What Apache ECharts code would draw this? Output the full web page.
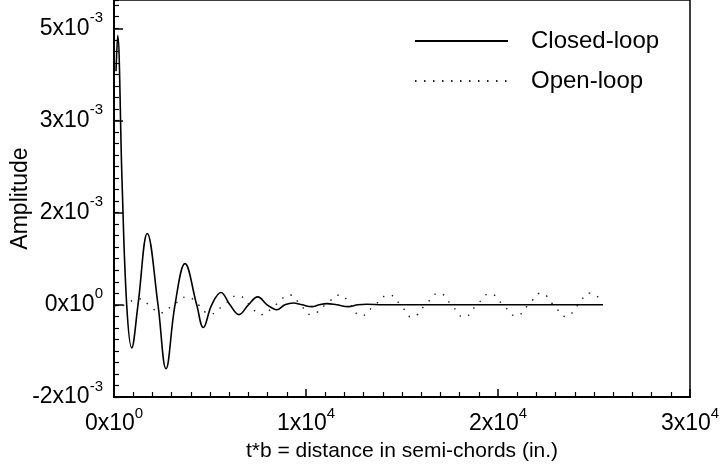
<!DOCTYPE html>
<html>
<head>
<meta charset="utf-8">
<script src="https://cdn.jsdelivr.net/npm/echarts@6/dist/echarts.min.js"></script>
<style>
html,body{margin:0;padding:0;background:#fff;}
#chart{width:722px;height:465px;}
</style>
</head>
<body>
<div id="chart"></div>
<script>
// ---- data ----
const closedX = [104, 193, 420, 661, 922, 1250, 1734, 2292, 2708, 3177, 3698, 4307, 4651, 5088, 5573, 6040, 6510, 7000, 7484, 7980, 8474, 8900, 9338, 9800, 10296, 10700, 11077, 11600, 12202, 12700, 13160, 14000, 25470];
const closedY = [3.80e-3, 4.38e-3, 2.0e-3, 0, -0.70e-3, 0, 1.16e-3, 0, -1.04e-3, 0, 0.67e-3, 0, -0.37e-3, 0, 0.20e-3, 0, -0.16e-3, 0, 0.13e-3, 0, -0.08e-3, 0, 0.03e-3, 0, -0.03e-3, 0, 0.02e-3, 0, -0.03e-3, 0, 0.01e-3, 0, 0];

const openX = [0, 573, 1250, 1823, 2396, 3099, 3802, 4401, 5000, 5729, 6458, 7057, 7656, 8411, 9166, 9713, 10260, 11015, 11770, 12317, 12864, 13593, 14322, 14921, 15520, 16223, 16926, 17577, 18228, 18905, 19582, 20259, 20936, 21587, 22238, 22889, 23540, 24165, 24790, 25363];
const openY = [-0.03e-3, 0, 0.10e-3, 0, -0.13e-3, 0, 0.13e-3, 0, -0.15e-3, 0, 0.15e-3, 0, -0.16e-3, 0, 0.16e-3, 0, -0.16e-3, 0, 0.16e-3, 0, -0.18e-3, 0, 0.16e-3, 0, -0.20e-3, 0, 0.19e-3, 0, -0.20e-3, 0, 0.18e-3, 0, -0.18e-3, 0, 0.19e-3, 0, -0.19e-3, 0, 0.19e-3, 0.08e-3];

const xTickMant = ['0', '1', '2', '3'];
const xTickExp  = ['0', '4', '4', '4'];
const yTickMant = ['-2', '0', '2', '3', '5'];
const yTickExp  = ['-3', '0', '-3', '-3', '-3'];

const seriesNames = ['Closed-loop', 'Open-loop'];
const xTitle = 't*b = distance in semi-chords (in.)';
const yTitle = 'Amplitude';

// ---- axis ranges ----
const xMin = 0, xMax = 30000, xInterval = 10000;
const yMin = -1.5e-3, yMax = 4.96e-3, yInterval = 1.5e-3;

const FONT = '"Liberation Sans", Arial, Helvetica, sans-serif';

function supLabel(m, e) { return '{m|' + m + 'x10}{e|' + e + '}'; }
function tickFormatter(min, step, mant, exp) {
  return function (v) {
    const f = (v - min) / step;
    const i = Math.round(f);
    if (Math.abs(f - i) > 1e-6 || i < 0 || i >= mant.length) return '';
    return supLabel(mant[i], exp[i]);
  };
}
const richStyle = {
  m: { fontSize: 23, fontFamily: FONT, color: '#000', lineHeight: 36 },
  e: { fontSize: 15, fontFamily: FONT, color: '#000', lineHeight: 15, verticalAlign: 'top' }
};

const chart = echarts.init(document.getElementById('chart'), null, { renderer: 'canvas' });
chart.setOption({
  animation: false,
  backgroundColor: '#fff',
  grid: { left: 114, right: 32, top: 0, bottom: 68, containLabel: false, outerBoundsMode: 'none',
          show: true, borderColor: '#000', borderWidth: 1.5, backgroundColor: 'transparent' },
  legend: {
    data: seriesNames,
    orient: 'vertical',
    left: 414,
    top: 28,
    padding: 0,
    itemWidth: 93,
    itemHeight: 14,
    itemGap: 14,
    itemStyle: { color: 'rgba(0,0,0,0)', borderWidth: 0, opacity: 0 },
    textStyle: { fontSize: 24, fontFamily: FONT, color: '#000', lineHeight: 26, padding: [0, 0, 0, 18] }
  },
  xAxis: {
    type: 'value', min: xMin, max: xMax, interval: xInterval,
    name: xTitle, nameLocation: 'middle', nameGap: 43,
    nameTextStyle: { fontSize: 21, fontFamily: FONT, color: '#000' },
    axisLine: { show: true, onZero: false, lineStyle: { color: '#000', width: 2 } },
    axisTick: { show: true, inside: true, length: 8, lineStyle: { color: '#000', width: 1.5 } },
    minorTick: { show: true, splitNumber: 10, length: 5, lineStyle: { color: '#000', width: 1.2 } },
    splitLine: { show: false },
    axisLabel: { margin: 9, formatter: tickFormatter(xMin, xInterval, xTickMant, xTickExp), rich: richStyle }
  },
  yAxis: [{
    type: 'value', min: yMin, max: yMax, interval: yInterval,
    name: yTitle, nameLocation: 'middle', nameGap: 82, nameMoveOverlap: false,
    nameTextStyle: { fontSize: 23, fontFamily: FONT, color: '#000' },
    axisLine: { show: true, onZero: false, lineStyle: { color: '#000', width: 2 } },
    axisTick: { show: true, inside: true, length: 9, lineStyle: { color: '#000', width: 1.5 } },
    splitLine: { show: false },
    axisLabel: { margin: 11, showMaxLabel: false, formatter: tickFormatter(yMin, yInterval, yTickMant, yTickExp), rich: richStyle }
  }, {
    type: 'value', min: yMin, max: yMax, interval: yInterval / 8, position: 'left',
    axisLine: { show: false, onZero: false },
    axisTick: { show: true, inside: true, length: 5, lineStyle: { color: '#000', width: 1.2 } },
    axisLabel: { show: false },
    splitLine: { show: false }
  }],
  series: [{
    name: seriesNames[0], type: 'line', yAxisIndex: 0,
    data: closedX.map((x, i) => [x, closedY[i]]),
    smooth: 0.4, symbol: 'none', color: '#000',
    lineStyle: { color: '#000', width: 1.6 }
  }, {
    name: seriesNames[1], type: 'line', yAxisIndex: 0,
    data: openX.map((x, i) => [x, openY[i]]),
    smooth: 0.5, symbol: 'none', color: '#222',
    lineStyle: { color: '#222', width: 1.4, type: [1.5, 7.5] }
  }]
});
</script>
</body>
</html>
